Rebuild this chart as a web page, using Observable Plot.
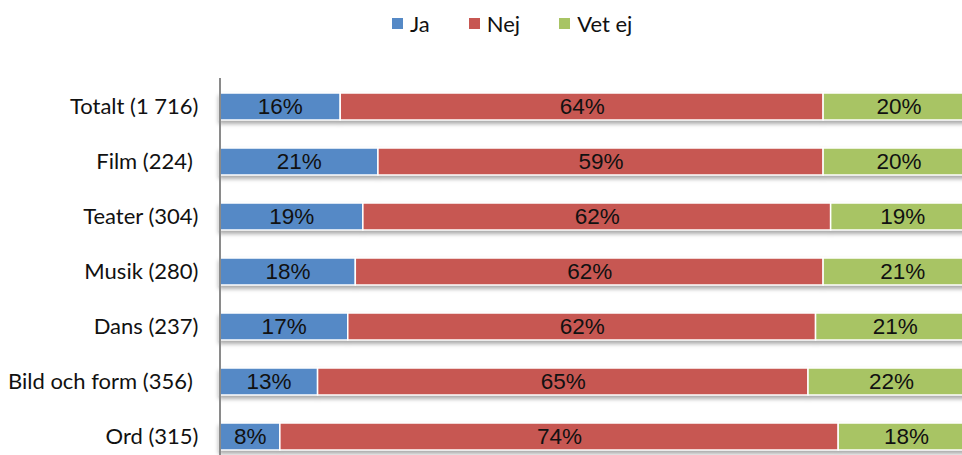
<!DOCTYPE html>
<html>
<head>
<meta charset="utf-8">
<script src="https://cdn.jsdelivr.net/npm/d3@7"></script>
<script src="https://cdn.jsdelivr.net/npm/@observablehq/plot@0.6"></script>
<style>
  html, body { margin: 0; padding: 0; background: white; overflow: hidden; }
  #legend { height: 44px; display: flex; align-items: center; padding-left: 392px; box-sizing: border-box;
            font-family: Lato, sans-serif; font-size: 22px; color: #111; padding-top: 3px; }
  #legend .item { display: flex; align-items: center; margin-right: 39px; }
  #legend .sw { width: 11px; height: 11px; margin-right: 7px; }
  #chart svg { overflow: hidden; display: block; }
</style>
</head>
<body>
<div id="legend"></div>
<div id="chart"></div>
<script>
const categories = ["Totalt (1 716)", "Film (224)\u00a0", "Teater (304)", "Musik (280)", "Dans (237)", "Bild och form (356)\u00a0", "Ord (315)"];
const responses = ["Ja", "Nej", "Vet ej"];
const ja    = [16, 21, 19, 18, 17, 13, 8];
const nej   = [64, 59, 62, 62, 62, 65, 74];
const vetEj = [20, 20, 19, 21, 21, 22, 18];
const colors = ["#5589C6", "#C75752", "#A8C464"];

const series = [ja, nej, vetEj];
const rows = [];
categories.forEach((cat, i) => {
  let acc = 0;
  responses.forEach((resp, j) => {
    const v = series[j][i];
    rows.push({cat, resp, value: v, start: acc, end: acc + v, mid: acc + v / 2});
    acc += v;
  });
});

// legend
const legend = document.getElementById("legend");
responses.forEach((r, j) => {
  const item = document.createElement("div");
  item.className = "item";
  const sw = document.createElement("div");
  sw.className = "sw";
  sw.style.background = colors[j];
  const t = document.createElement("span");
  t.textContent = r;
  item.appendChild(sw); item.appendChild(t);
  legend.appendChild(item);
});

const chart = Plot.plot({
  width: 962,
  height: 411,
  marginLeft: 219,
  marginRight: 0,
  marginTop: 34,
  marginBottom: 0,
  x: {domain: [0, 100], range: [219.5, 974], axis: null},
  y: {domain: categories, range: [35, 420], paddingInner: 0.51, paddingOuter: 0.255, label: null},
  color: {domain: responses, range: colors},
  style: {fontFamily: "Lato, sans-serif", fontSize: "22px", color: "#111", background: "white"},
  marks: [
    Plot.barX(rows, {x1: "start", x2: "end", y: "cat", fill: "resp", stroke: "white", strokeWidth: 1.5}),
    Plot.text(rows, {x: "mid", y: "cat", text: d => d.value + "%", fontFamily: "Liberation Sans, Arial, sans-serif", fontSize: 22.5, fill: "#111"}),
    Plot.ruleX([0], {stroke: "#8a8a8a", strokeWidth: 2}),
    Plot.axisY({tickSize: 0, tickPadding: 21, fontSize: 22, fontFamily: "Lato, sans-serif", label: null})
  ]
});
d3.select(chart).selectAll("g[aria-label=bar]").style("filter", "drop-shadow(0px 3px 2px rgba(0,0,0,0.35))");
document.getElementById("chart").appendChild(chart);
</script>
</body>
</html>
